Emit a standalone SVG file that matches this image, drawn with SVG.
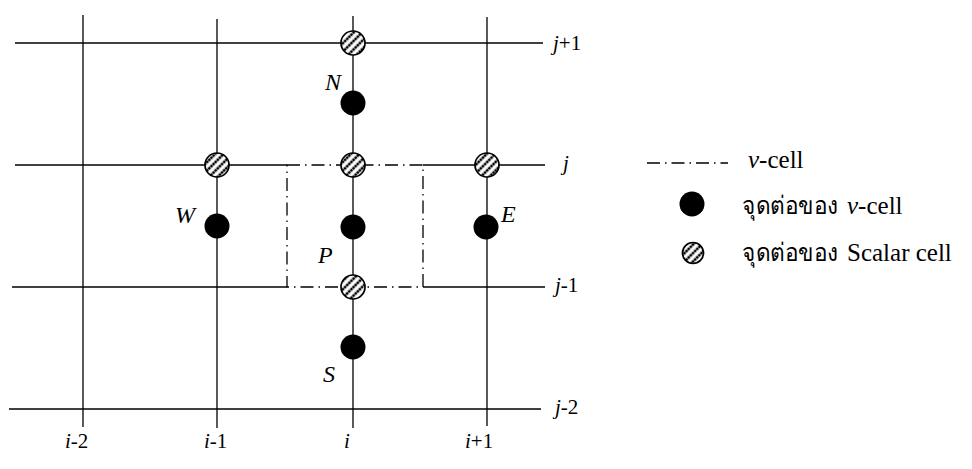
<svg xmlns="http://www.w3.org/2000/svg" width="972" height="469" viewBox="0 0 972 469">
<style>
.grid{stroke:#000;stroke-width:1.3;fill:none}
.dd{stroke:#000;stroke-width:1.3;fill:none;stroke-dasharray:13 5 1.5 5}
.dot{fill:#000}
.hat{fill:url(#hatch);stroke:#000;stroke-width:1.7}
.lbl{font-family:"Liberation Serif",serif;font-style:italic;font-size:24px;fill:#000}
.idx{font-family:"Liberation Serif",serif;font-size:21px;fill:#000}
.it{font-style:italic}
.leg{font-family:"Liberation Serif",serif;font-size:25px;fill:#000}
</style>
<defs>
<pattern id="hatch" patternUnits="userSpaceOnUse" width="6" height="6" patternTransform="rotate(45)">
<rect width="6" height="6" fill="#fff"/>
<line x1="3" y1="0" x2="3" y2="6" stroke="#000" stroke-width="2.6" stroke-dasharray="2.4 0.6"/>
</pattern>
</defs>
<g id="connectors">
<line class="grid" x1="83" y1="15" x2="83" y2="427"/>
<line class="grid" x1="217" y1="19" x2="217" y2="428"/>
<line class="grid" x1="353" y1="16" x2="353" y2="428"/>
<line class="grid" x1="487" y1="17" x2="487" y2="426"/>
<line class="grid" x1="15" y1="43" x2="543" y2="43"/>
<line class="grid" x1="15" y1="165" x2="287" y2="165"/>
<line class="grid" x1="423" y1="165" x2="545" y2="165"/>
<line class="grid" x1="12" y1="287" x2="287" y2="287"/>
<line class="grid" x1="423" y1="287" x2="545" y2="287"/>
<line class="grid" x1="9" y1="409" x2="541" y2="409"/>
</g>
<g id="v-cell">
<rect class="dd" x="287" y="165" width="136" height="122"/>
</g>
<g id="scalar-nodes">
<circle class="hat" cx="353" cy="43" r="12"/>
<circle class="hat" cx="217" cy="165" r="12"/>
<circle class="hat" cx="353" cy="165" r="12"/>
<circle class="hat" cx="487" cy="165" r="12"/>
<circle class="hat" cx="353" cy="287" r="12"/>
</g>
<g id="node-N"><circle class="dot" cx="353" cy="103" r="12.5"/><text class="lbl" x="325" y="90">N</text></g>
<g id="node-W"><circle class="dot" cx="217" cy="226" r="12.5"/><text class="lbl" x="175" y="223">W</text></g>
<g id="node-P"><circle class="dot" cx="353" cy="227" r="12.5"/><text class="lbl" x="318" y="263">P</text></g>
<g id="node-E"><circle class="dot" cx="486" cy="227" r="12.5"/><text class="lbl" x="501" y="222">E</text></g>
<g id="node-S"><circle class="dot" cx="353" cy="347" r="12.5"/><text class="lbl" x="323" y="382">S</text></g>
<g id="labels">
<text class="idx" x="553" y="50"><tspan class="it">j</tspan>+1</text>
<text class="idx" x="563" y="170"><tspan class="it">j</tspan></text>
<text class="idx" x="555" y="292"><tspan class="it">j</tspan>-1</text>
<text class="idx" x="555" y="414"><tspan class="it">j</tspan>-2</text>
<text class="idx" x="65" y="448"><tspan class="it">i</tspan>-2</text>
<text class="idx" x="204" y="448"><tspan class="it">i</tspan>-1</text>
<text class="idx" x="344" y="448"><tspan class="it">i</tspan></text>
<text class="idx" x="465" y="448"><tspan class="it">i</tspan>+1</text>
</g>
<g id="legend">
<line class="dd" x1="647" y1="163" x2="728" y2="163"/>
<text class="leg" x="748" y="168"><tspan class="it">v</tspan>-cell</text>
<circle class="dot" cx="692" cy="204" r="12.5"/>
<text class="leg" x="742" y="214"><tspan textLength="96" lengthAdjust="spacingAndGlyphs">จุดต่อของ</tspan><tspan x="847" class="it">v</tspan>-cell</text>
<circle class="hat" cx="693" cy="253" r="10.5"/>
<text class="leg" x="742" y="261"><tspan textLength="96" lengthAdjust="spacingAndGlyphs">จุดต่อของ</tspan><tspan x="847">Scalar cell</tspan></text>
</g>
</svg>
